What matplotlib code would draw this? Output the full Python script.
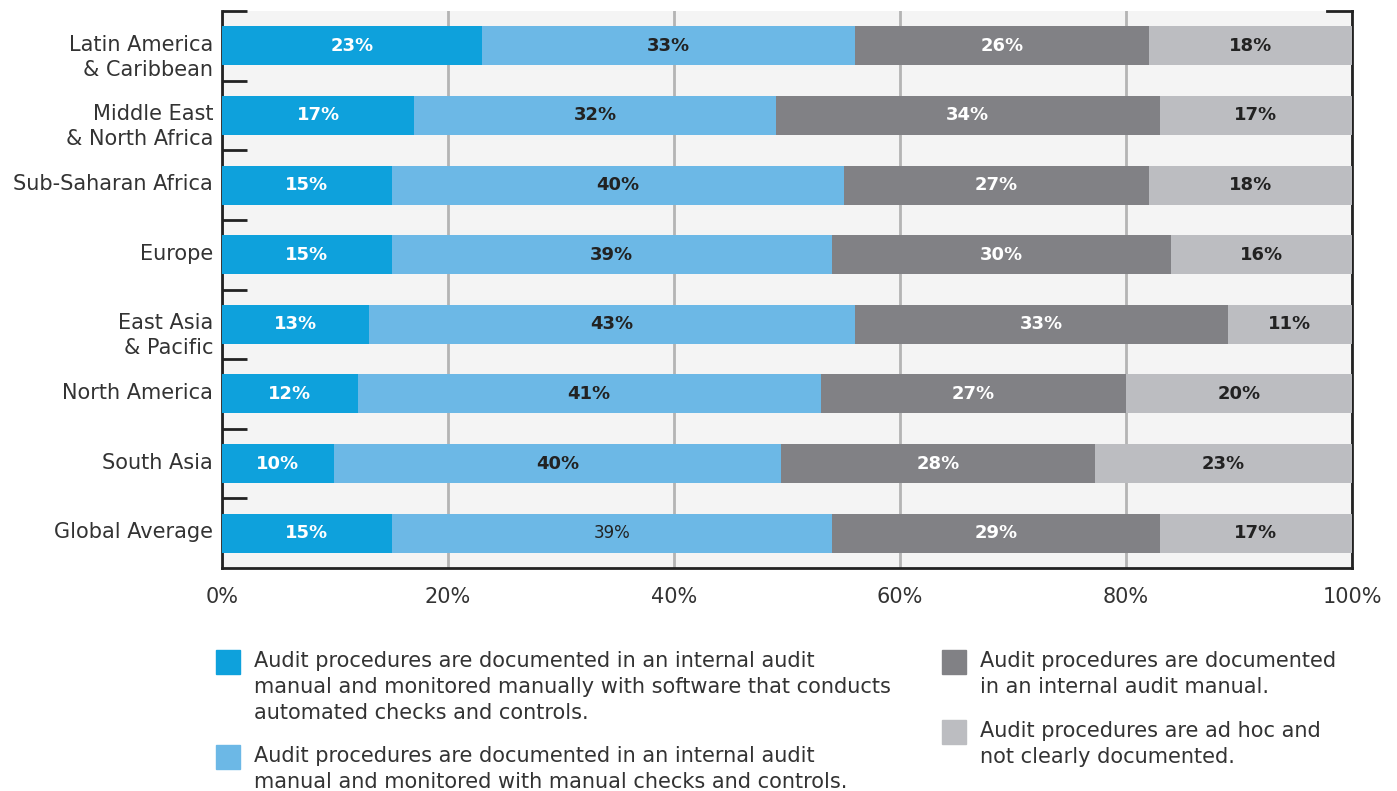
import matplotlib
matplotlib.use("Agg")
import matplotlib.pyplot as plt
from matplotlib.patches import Rectangle
from matplotlib.transforms import ScaledTranslation
import numpy as np

plt.rcParams['font.family'] = ['DejaVu Sans']

regions = ["Latin America\n& Caribbean", "Middle East\n& North Africa", "Sub-Saharan Africa",
           "Europe", "East Asia\n& Pacific", "North America", "South Asia", "Global Average"]
software = [23, 17, 15, 15, 13, 12, 10, 15]
manual_checks = [33, 32, 40, 39, 43, 41, 40, 39]
manual_only = [26, 34, 27, 30, 33, 27, 28, 29]
ad_hoc = [18, 17, 18, 16, 11, 20, 23, 17]
series = [software, manual_checks, manual_only, ad_hoc]
colors = ["#0ea1dc", "#6cb8e6", "#818185", "#bcbdc1"]
text_colors = ["white", "#222222", "white", "#222222"]
legend_labels = [
    "Audit procedures are documented in an internal audit\nmanual and monitored manually with software that conducts\nautomated checks and controls.",
    "Audit procedures are documented in an internal audit\nmanual and monitored with manual checks and controls.",
    "Audit procedures are documented\nin an internal audit manual.",
    "Audit procedures are ad hoc and\nnot clearly documented.",
]
xticks = [0, 20, 40, 60, 80, 100]
xticklabels = ["0%", "20%", "40%", "60%", "80%", "100%"]

fig = plt.figure(figsize=(13.97, 7.91), dpi=100)
ax = fig.add_axes([222/1397, 1-568/791, (1352-222)/1397, (568-11)/791])
ax.set_facecolor("#f4f4f4")

data = np.array(series, dtype=float)
totals = data.sum(axis=0)
shares = data / totals * 100  # percent-stacked

y = np.arange(len(regions))
left = np.zeros(len(regions))
for si, (c, tc) in enumerate(zip(colors, text_colors)):
    widths = shares[si]
    ax.barh(y, widths, left=left, height=0.56, color=c, zorder=3)
    for i in range(len(regions)):
        weight = "bold"
        size = 13
        if regions[i] == "Global Average" and si == 1:
            weight = "normal"
            size = 12
        ax.text(left[i] + widths[i]/2, y[i], f"{series[si][i]}%", ha="center", va="center",
                color=tc, fontsize=size, fontweight=weight, zorder=4)
    left += widths

ax.set_xlim(0, 100)
ax.set_ylim(len(regions)-0.5, -0.5)
ax.set_yticks(y)
ax.set_yticklabels([])
ax.tick_params(axis="y", which="major", length=0)
lbl_tr = ax.get_yaxis_transform() + ScaledTranslation(-9/100, 11/100, fig.dpi_scale_trans)
for yi, name in zip(y, regions):
    ax.text(0, yi, name, transform=lbl_tr, ha="right", va="top", fontsize=15,
            color="#333333", linespacing=1.3, multialignment="right")
ax.set_yticks(np.arange(-0.5, len(regions)-1, 1.0), minor=True)
ax.tick_params(axis="y", which="minor", direction="in", length=18, width=2, color="#222222")
ax.set_xticks(xticks)
ax.set_xticklabels(xticklabels, fontsize=15, color="#333333")
ax.tick_params(axis="x", length=0, pad=14)
ax.xaxis.grid(True, color="#b4b4b4", linewidth=2, zorder=1)
ax.set_axisbelow(True)

for s in ["left", "right", "bottom"]:
    ax.spines[s].set_color("#222222")
    ax.spines[s].set_linewidth(2)
ax.spines["top"].set_visible(False)
ax.plot([1-25/1130, 1], [1, 1], transform=ax.transAxes, color="#222222", lw=2,
        clip_on=False, zorder=5, solid_capstyle="projecting")

# legend
def legend_item(xs, ys, color, text):
    fig.patches.append(Rectangle((xs/1397, 1-(ys+24)/791), 24/1397, 24/791,
                                 transform=fig.transFigure, color=color))
    fig.text((xs+38)/1397, 1-(ys+1)/791, text, ha="left", va="top", fontsize=15,
             color="#333333", linespacing=1.36)

legend_item(216, 650, colors[0], legend_labels[0])
legend_item(216, 745, colors[1], legend_labels[1])
legend_item(942, 650, colors[2], legend_labels[2])
legend_item(942, 720, colors[3], legend_labels[3])

fig.savefig("out.png", dpi=100, facecolor="white")
